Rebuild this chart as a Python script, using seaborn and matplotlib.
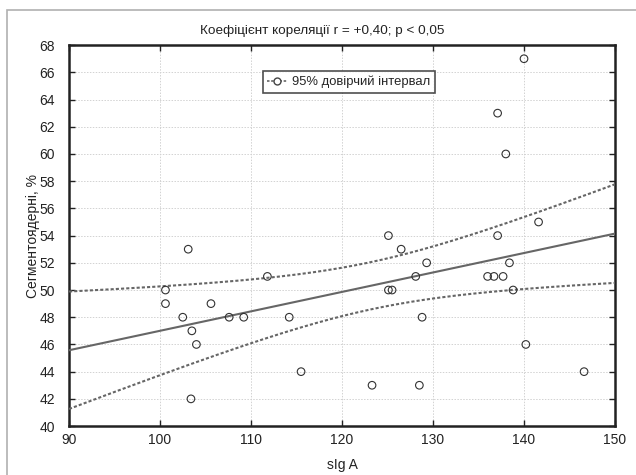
import numpy as np
import pandas as pd
import matplotlib
matplotlib.use('Agg')
import matplotlib.pyplot as plt
from matplotlib.lines import Line2D
from matplotlib.patches import Rectangle
import seaborn as sns

# values
slg_a = [103.1, 100.6, 100.6, 102.5, 103.5, 104.0, 103.4, 105.6, 107.6, 109.2,
         111.8, 114.2, 115.5, 123.3, 125.1, 126.5, 125.1, 125.5, 128.1, 129.3,
         128.8, 128.5,
         140.0, 137.1, 138.0, 141.6,
         137.1, 138.4, 136.0, 136.7, 137.7, 138.8, 140.2, 146.6]
segment = [53, 50, 49, 48, 47, 46, 42, 49, 48, 48,
           51, 48, 44, 43, 54, 53, 50, 50, 51, 52,
           48, 43,
           67, 63, 60, 55,
           54, 52, 51, 51, 51, 50, 46, 44]

title = 'Коефіцієнт кореляції r = +0,40; p < 0,05'
x_label = 'sIg A'
y_label = 'Сегментоядерні, %'
legend_label = '95% довірчий інтервал'


def main():
    sns.set_style('white')
    plt.rcParams['font.family'] = ['Liberation Sans', 'DejaVu Sans']

    df = pd.DataFrame({'x': slg_a, 'y': segment})

    fig = plt.figure(figsize=(6.36, 4.75), dpi=100)
    ax = fig.add_axes([0.1085, 0.103, 0.8585, 0.802])

    # outer frame of the figure
    fig.patches.append(Rectangle((0.011, -0.01), 1.2, 0.99, transform=fig.transFigure,
                                 fill=False, edgecolor='#b0b0b0', linewidth=1.2))

    # regression line and analytic 95% confidence band
    n = len(df)
    slope, icpt = np.polyfit(df.x, df.y, 1)
    xs = np.linspace(90, 150, 200)
    fit = icpt + slope * xs
    resid = df.y - (icpt + slope * df.x)
    s = np.sqrt((resid ** 2).sum() / (n - 2))
    xm = df.x.mean()
    sxx = ((df.x - xm) ** 2).sum()
    se = s * np.sqrt(1 / n + (xs - xm) ** 2 / sxx)
    t = 2.037
    ax.plot(xs, fit, color='#666666', lw=1.5, zorder=3)
    ax.plot(xs, fit + t * se, color='#666666', lw=1.5, ls=(0, (1.5, 1)), zorder=3)
    ax.plot(xs, fit - t * se, color='#666666', lw=1.5, ls=(0, (1.5, 1)), zorder=3)

    sns.scatterplot(data=df, x='x', y='y', ax=ax, marker='o', s=30,
                    facecolor='none', edgecolor='#333333', linewidth=0.8, zorder=4)

    ax.set_xlim(90, 150)
    ax.set_ylim(40, 68)
    ax.set_xticks(range(90, 151, 10))
    ax.set_yticks(range(40, 69, 2))
    ax.grid(True, color='#d2d2d2', ls=(0, (1.5, 1.5)), lw=0.7)
    ax.set_axisbelow(True)
    ax.tick_params(direction='in', length=4, width=1, labelsize=10,
                   top=True, right=True, left=True, bottom=True, colors='#222222')
    ax.tick_params(axis='y', pad=10)
    ax.tick_params(axis='x', pad=5)
    for lab in ax.get_xticklabels() + ax.get_yticklabels():
        lab.set_color('#222222')
    for sp in ax.spines.values():
        sp.set_linewidth(1.8)
        sp.set_color('#222222')

    ax.set_xlabel(x_label, fontsize=10, color='#222222', labelpad=8)
    ax.set_ylabel(y_label, fontsize=10, color='#222222')
    ax.yaxis.set_label_coords(-0.053, 0.5)
    fig.text(0.507, 0.935, title, fontsize=9.7, color='#222222', ha='center', va='center')

    handle = Line2D([], [], color='#666666', lw=1.2, ls=(0, (1.5, 1)),
                    marker='o', markerfacecolor='white', markeredgecolor='#444444',
                    markersize=5)
    leg = ax.legend([handle], [legend_label], loc='upper left',
                    bbox_to_anchor=(0.355, 0.932), frameon=True, fancybox=False,
                    fontsize=9.4, handlelength=1.5, handletextpad=0.4,
                    borderpad=0.35, borderaxespad=0)
    leg.get_frame().set_edgecolor('#222222')
    leg.get_frame().set_linewidth(1.2)

    fig.savefig('out.png', dpi=100)
    plt.close(fig)


if __name__ == '__main__':
    main()
